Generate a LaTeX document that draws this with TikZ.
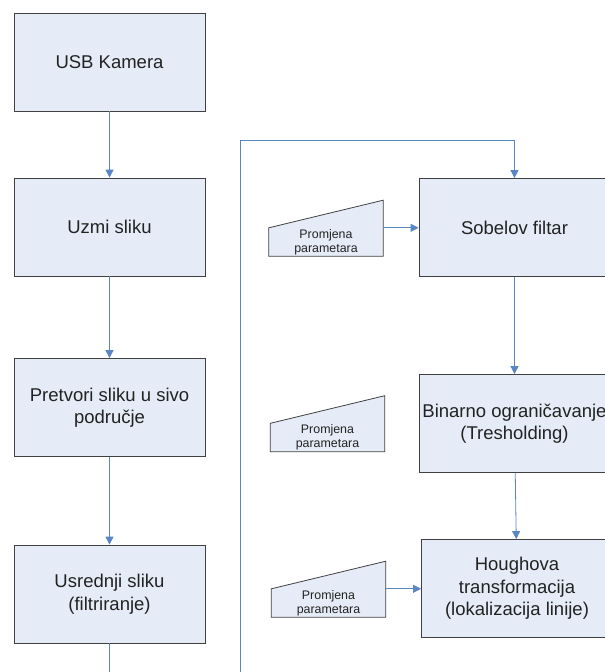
\documentclass[tikz,border=0pt]{standalone}
\usepackage{fontspec}
\setmainfont{Liberation Sans}
\usepackage{xcolor}
\usetikzlibrary{arrows.meta,positioning,calc,backgrounds}
\definecolor{boxfill}{HTML}{E6ECF7}
\definecolor{boxline}{HTML}{404040}
\definecolor{flowblue}{HTML}{5A86C4}
\definecolor{txt}{HTML}{222222}

\begin{document}
\begin{tikzpicture}[x=1pt, y=-1pt]
	\tikzset{align=center,font=\fontsize{18.5}{22.5}\selectfont,text=txt}
	\tikzset{block/.style = {shape=rectangle,draw=boxline,fill=boxfill,line width=0.8pt,minimum width=191pt,minimum height=98pt,inner sep=0pt}}
	\tikzset{param/.style = {shape=rectangle,minimum width=114pt,minimum height=28pt,inner sep=0pt,font=\fontsize{12.4}{14}\selectfont}}
	\tikzset{flow/.style = {draw=flowblue,line width=0.8pt,-{Triangle[length=8pt,width=8pt]}}}

	\useasboundingbox (0,0) rectangle (605,672);
	\clip (0,0) rectangle (605,672);

	\node[block] (1) at (109.5,62) {USB Kamera};
	\node[block] (2) at (109.5,227) {Uzmi sliku};
	\node[block] (3) at (109.5,407.5) {Pretvori sliku u sivo\\područje};
	\node[block] (4) at (109.5,594) {Usrednji sliku\\(filtriranje)};
	\node[block] (5) at (514.5,227.5) {Sobelov filtar};
	\node[block] (6) at (514.5,423.5) {Binarno ograničavanje\\(Tresholding)};
	\node[block] (7) at (517,588.5) {Houghova\\transformacija\\(lokalizacija linije)};

	\node[param] (8) at (326,242) {Promjena\\parametara};
	\node[param] (9) at (327.5,437.5) {Promjena\\parametara};
	\node[param] (10) at (328.5,603) {Promjena\\parametara};

	\begin{scope}[on background layer]
		\foreach \p in {8,9,10}
			\draw[draw=boxline,fill=boxfill,line width=0.8pt] (\p.south west) -- (\p.south east) -- ++(0,-56) -- (\p.north west) -- cycle;
	\end{scope}

	\coordinate (11) at (240,700);
	\coordinate (12) at (514.5,140);

	\path[every edge/.style={flow}]
	(1) edge (2)
	(2) edge (3)
	(3) edge (4)
	(5) edge (6)
	(6) edge (7)
	(8.north east) edge (8.north east -| 5.west)
	(10.north east) edge (10.north east -| 7.west)
	;
	\draw[flow] (4) |- (11) |- (12) -- (5);

\end{tikzpicture}
\end{document}
